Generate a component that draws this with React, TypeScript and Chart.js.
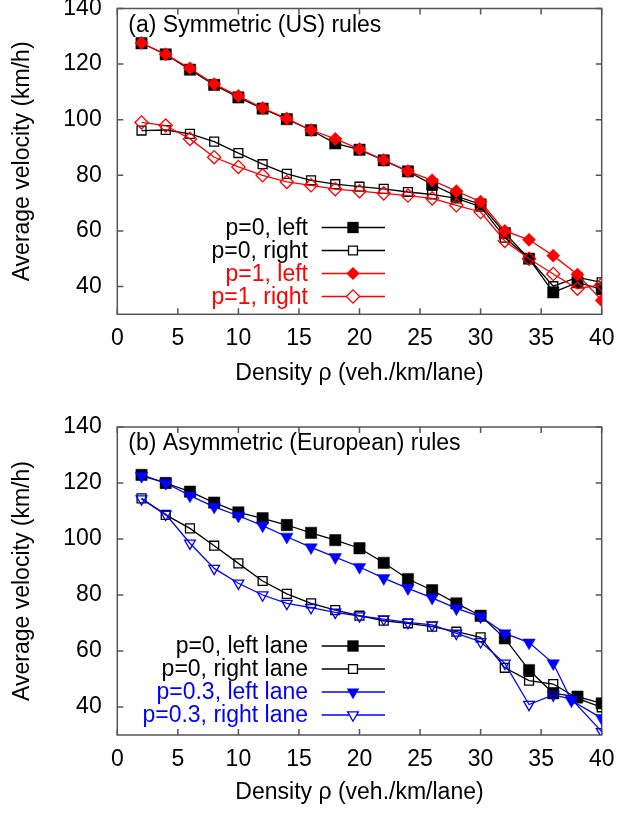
import React, { useEffect, useRef } from "react";
import { Chart, registerables } from "chart.js";

Chart.register(...registerables);

// ---------------- data ----------------
const DENSITY = [2, 4, 6, 8, 10, 12, 14, 16, 18, 20, 22, 24, 26, 28, 30, 32, 34, 36, 38, 40];
const DENSITY_P03 = [2, 4, 6, 8, 10, 12, 14, 16, 18, 20, 22, 24, 26, 28, 30, 32, 34, 36, 37.5, 40];
const X_TICKS = [0, 5, 10, 15, 20, 25, 30, 35, 40];
const Y_TICKS = [40, 60, 80, 100, 120, 140];

// (a) Symmetric (US) rules
const A_P0_LEFT = [127.5, 123.5, 118, 112.5, 108, 104, 100.2, 96.2, 91.5, 89.2, 85.4, 81.4, 76.7, 72.5, 69.5, 59.2, 50, 37.9, 41.5, 39];
const A_P0_RIGHT = [96.1, 96.3, 94.9, 92.1, 88, 84, 80.5, 78.2, 76.8, 75.9, 75.1, 74, 73.1, 71.7, 68.7, 57.6, 50, 40.1, 43.3, 41.5];
const A_P1_LEFT = [127.6, 123.5, 118.5, 112.8, 108.6, 104.2, 100.4, 96.3, 93.1, 89.4, 85.5, 81.5, 78.2, 74.3, 70.5, 60, 56.8, 51.1, 44.3, 35];
const A_P1_RIGHT = [99, 97.9, 93.1, 86.5, 83, 80, 77.6, 76.4, 75, 74.3, 73.5, 72.7, 71.7, 69.2, 66.8, 56.4, 50, 44.5, 39.2, 40.7];

// (b) Asymmetric (European) rules
const B_P0_LEFT = [122.9, 120, 116.9, 113, 109.5, 107.4, 105, 102.2, 99.6, 96.7, 91.5, 85.7, 81.7, 77, 72.6, 64.5, 53.2, 44.9, 43.7, 41.3];
const B_P0_RIGHT = [114.5, 108.6, 103.8, 97.6, 91.3, 85, 80.4, 77, 74.6, 72.6, 70.8, 69.9, 68.7, 66.9, 64.9, 54, 49.4, 48.2, 43.1, 39.9];
const B_P03_LEFT = [122.5, 120, 115.5, 111.5, 108.3, 104.8, 100.8, 97, 93.5, 90, 86, 82.4, 79, 75.2, 72.3, 66.3, 63, 55.6, 42.3, 36];
const B_P03_RIGHT = [114.3, 108.8, 98.5, 89.5, 84.2, 80, 77, 75.5, 73.8, 72.5, 71.4, 70.2, 69.3, 66.3, 63.3, 55.6, 40.9, 44.3, 42.8, 31.2];

// ---------------- style ----------------
const FONT = "'Liberation Sans', Arial, Helvetica, sans-serif";
const FS = 23;
const BLACK = "#000000";
const RED = "#ff0000";
const BLUE = "#0000ff";
const FRAME = "#555555";

type Shape = "rect" | "rectRot" | "triangle";
interface Series {
  label: string;
  xs: number[];
  ys: number[];
  color: string;
  shape: Shape;
  filled: boolean;
}
interface PanelCfg {
  title: string;
  series: Series[];
  canvasTop: number;
  height: number;
  areaTop: number; // local
  areaBottom: number; // local
  xTitlePad: number;
}

function radiusFor(shape: Shape, filled: boolean): number {
  if (shape === "rect") return filled ? 8 : 6.3;
  if (shape === "rectRot") return 6.6;
  return filled ? 7.2 : 6.2;
}

function drawMarker(ctx: CanvasRenderingContext2D, s: Series, x: number, y: number) {
  const r = radiusFor(s.shape, s.filled);
  ctx.beginPath();
  if (s.shape === "rect") {
    const h = r * Math.SQRT1_2;
    ctx.rect(x - h, y - h, 2 * h, 2 * h);
  } else if (s.shape === "rectRot") {
    ctx.moveTo(x - r, y);
    ctx.lineTo(x, y - r);
    ctx.lineTo(x + r, y);
    ctx.lineTo(x, y + r);
    ctx.closePath();
  } else {
    ctx.moveTo(x, y + r);
    ctx.lineTo(x - 0.866 * r, y - 0.5 * r);
    ctx.lineTo(x + 0.866 * r, y - 0.5 * r);
    ctx.closePath();
  }
  if (s.filled) {
    ctx.fillStyle = s.color;
    ctx.fill();
  } else {
    ctx.fillStyle = "#ffffff";
    ctx.fill();
    ctx.lineWidth = 1.3;
    ctx.strokeStyle = s.color;
    ctx.stroke();
  }
}

function makePlugin(cfg: PanelCfg) {
  return {
    id: "gnuframe",
    beforeDatasetsDraw(chart: any) {
      const { ctx, chartArea: a, scales } = chart;
      ctx.save();
      ctx.strokeStyle = FRAME;
      ctx.lineWidth = 1.5;
      ctx.strokeRect(a.left, a.top, a.right - a.left, a.bottom - a.top);
      ctx.beginPath();
      const tl = 6;
      for (const v of X_TICKS) {
        const px = scales.x.getPixelForValue(v);
        ctx.moveTo(px, a.bottom);
        ctx.lineTo(px, a.bottom - tl);
        ctx.moveTo(px, a.top);
        ctx.lineTo(px, a.top + tl);
      }
      for (const v of Y_TICKS) {
        const py = scales.y.getPixelForValue(v);
        ctx.moveTo(a.left, py);
        ctx.lineTo(a.left + tl, py);
        ctx.moveTo(a.right, py);
        ctx.lineTo(a.right - tl, py);
      }
      ctx.stroke();
      ctx.restore();
    },
    afterDraw(chart: any) {
      const { ctx, chartArea: a } = chart;
      ctx.save();
      ctx.font = `${FS}px ${FONT}`;
      ctx.textBaseline = "middle";
      ctx.textAlign = "left";
      ctx.fillStyle = BLACK;
      ctx.fillText(cfg.title, a.left + 11, a.top + 17);
      const textRight = 308;
      const lineL = 321.7;
      const lineR = 385;
      const mx = 353;
      cfg.series.forEach((s, i) => {
        const y = a.top + 219 + i * 23;
        ctx.textAlign = "right";
        ctx.fillStyle = s.color;
        ctx.fillText(s.label, textRight, y + 1);
        ctx.beginPath();
        ctx.moveTo(lineL, y);
        ctx.lineTo(lineR, y);
        ctx.strokeStyle = s.color;
        ctx.lineWidth = 1.3;
        ctx.stroke();
        drawMarker(ctx, s, mx, y);
      });
      ctx.restore();
    },
  };
}

const PANEL_A: PanelCfg = {
  title: "(a) Symmetric (US) rules",
  series: [
    { label: "p=0, left", xs: DENSITY, ys: A_P0_LEFT, color: BLACK, shape: "rect", filled: true },
    { label: "p=0, right", xs: DENSITY, ys: A_P0_RIGHT, color: BLACK, shape: "rect", filled: false },
    { label: "p=1, left", xs: DENSITY, ys: A_P1_LEFT, color: RED, shape: "rectRot", filled: true },
    { label: "p=1, right", xs: DENSITY, ys: A_P1_RIGHT, color: RED, shape: "rectRot", filled: false },
  ],
  canvasTop: 0,
  height: 407,
  areaTop: 6.3,
  areaBottom: 314.3,
  xTitlePad: 19.2,
};

const PANEL_B: PanelCfg = {
  title: "(b) Asymmetric (European) rules",
  series: [
    { label: "p=0, left lane", xs: DENSITY, ys: B_P0_LEFT, color: BLACK, shape: "rect", filled: true },
    { label: "p=0, right lane", xs: DENSITY, ys: B_P0_RIGHT, color: BLACK, shape: "rect", filled: false },
    { label: "p=0.3, left lane", xs: DENSITY_P03, ys: B_P03_LEFT, color: BLUE, shape: "triangle", filled: true },
    { label: "p=0.3, right lane", xs: DENSITY_P03, ys: B_P03_RIGHT, color: BLUE, shape: "triangle", filled: false },
  ],
  canvasTop: 407,
  height: 407,
  areaTop: 20,
  areaBottom: 328,
  xTitlePad: 7.2,
};

const WIDTH = 617;
const AREA_LEFT = 117.3;
const AREA_RIGHT = 601.7;

function Panel({ cfg }: { cfg: PanelCfg }) {
  const ref = useRef<HTMLCanvasElement | null>(null);
  useEffect(() => {
    if (!ref.current) return;
    const n = cfg.series.length;
    const datasets = cfg.series.map((s, i) => ({
      label: s.label,
      data: s.xs.map((x, j) => ({ x, y: s.ys[j] })),
      borderColor: s.color,
      borderWidth: 1.3,
      backgroundColor: s.color,
      pointStyle: s.shape,
      pointRotation: s.shape === "triangle" ? 180 : 0,
      pointRadius: radiusFor(s.shape, s.filled),
      pointHoverRadius: radiusFor(s.shape, s.filled),
      pointBackgroundColor: s.filled ? s.color : "rgba(0,0,0,0)",
      pointBorderColor: s.color,
      pointBorderWidth: s.filled ? 0.5 : 1.3,
      tension: 0,
      fill: false,
      order: n - i,
    }));
    const chart = new Chart(ref.current, {
      type: "line",
      data: { datasets },
      plugins: [makePlugin(cfg)],
      options: {
        animation: false,
        responsive: false,
        events: [],
        layout: {
          padding: { top: cfg.areaTop, left: 0, right: WIDTH - AREA_RIGHT, bottom: 0 },
        },
        plugins: { legend: { display: false }, tooltip: { enabled: false } },
        scales: {
          x: {
            type: "linear",
            min: 0,
            max: 40,
            afterBuildTicks: (sc: any) => {
              sc.ticks = X_TICKS.map((v) => ({ value: v }));
            },
            afterFit: (sc: any) => {
              sc.height = cfg.height - cfg.areaBottom;
              sc.paddingLeft = 0;
              sc.paddingRight = 0;
            },
            grid: { display: false, drawTicks: false },
            border: { display: false },
            ticks: { color: BLACK, font: { family: FONT, size: FS }, padding: 10.9, maxRotation: 0 },
            title: {
              display: true,
              text: "Density ρ (veh./km/lane)",
              color: BLACK,
              font: { family: FONT, size: FS },
              padding: { top: 0, bottom: cfg.xTitlePad },
            },
          },
          y: {
            type: "linear",
            min: 30,
            max: 140,
            afterBuildTicks: (sc: any) => {
              sc.ticks = Y_TICKS.map((v) => ({ value: v }));
            },
            afterFit: (sc: any) => {
              sc.width = AREA_LEFT;
              sc.paddingTop = 0;
              sc.paddingBottom = 0;
            },
            grid: { display: false, drawTicks: false },
            border: { display: false },
            ticks: { color: BLACK, font: { family: FONT, size: FS }, padding: 15.6 },
            title: {
              display: true,
              text: "Average velocity (km/h)",
              color: BLACK,
              font: { family: FONT, size: FS },
              padding: { top: 9.2, bottom: 0 },
            },
          },
        },
      },
    } as any);
    return () => chart.destroy();
  }, [cfg]);
  return (
    <canvas
      ref={ref}
      width={WIDTH}
      height={cfg.height}
      style={{ position: "absolute", left: 0, top: cfg.canvasTop, width: WIDTH, height: cfg.height, display: "block" }}
    />
  );
}

export default function App() {
  return (
    <div style={{ position: "absolute", left: 0, top: 0, width: WIDTH, height: 814, background: "#ffffff" }}>
      <Panel cfg={PANEL_A} />
      <Panel cfg={PANEL_B} />
    </div>
  );
}
